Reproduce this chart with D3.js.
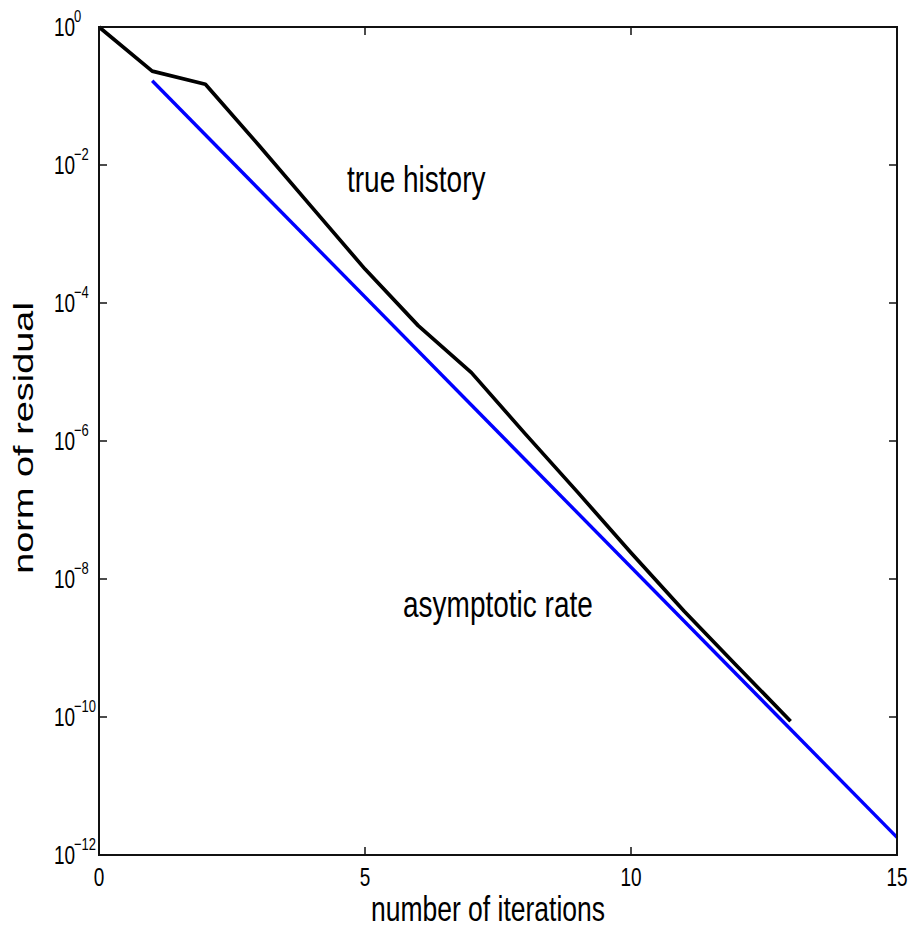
<!DOCTYPE html>
<html>
<head>
<meta charset="utf-8">
<script src="https://cdn.jsdelivr.net/npm/d3@7"></script>
<style>
  body { margin: 0; background: #fff; }
  text { font-family: "Liberation Sans", Arial, sans-serif; fill: #000; }
</style>
</head>
<body>
<script>
// residual history (true) and asymptotic rate line
const iterations = [0, 1, 2, 3, 4, 5, 6, 7, 8, 9, 10, 11, 12, 13];
const trueHistory = [1, 0.229, 0.148, 0.0195, 0.00245, 3.1e-4, 4.7e-5, 9.8e-6, 1.3e-6, 1.8e-7, 2.4e-8, 3.4e-9, 5.4e-10, 8.7e-11];
const rateIterations = [1, 15];
const rateValues = [0.166, 1.8e-12];
const xTicks = [0, 5, 10, 15];
const yTickExponents = [0, -2, -4, -6, -8, -10, -12];

const W = 911, H = 930;
const plotLeft = 99, plotRight = 897, plotTop = 27, plotBottom = 855;
const stretch = 1.33; // glyphs in the picture are taller than wide

const svg = d3.select("body").append("svg")
    .attr("width", W)
    .attr("height", H);

const x = d3.scaleLinear().domain([0, 15]).range([plotLeft, plotRight]);
const y = d3.scaleLog().domain([1, 1e-12]).range([plotTop, plotBottom]);

// lines
const line = d3.line()
    .x(d => x(d[0]))
    .y(d => y(d[1]));

svg.append("path")
    .datum(rateIterations.map((v, i) => [v, rateValues[i]]))
    .attr("d", line)
    .attr("fill", "none")
    .attr("stroke", "#0000ff")
    .attr("stroke-width", 3.4);

svg.append("path")
    .datum(iterations.map((v, i) => [v, trueHistory[i]]))
    .attr("d", line)
    .attr("fill", "none")
    .attr("stroke", "#000")
    .attr("stroke-width", 3.7)
    .attr("stroke-linejoin", "round");

// box
svg.append("rect")
    .attr("x", plotLeft)
    .attr("y", plotTop)
    .attr("width", plotRight - plotLeft)
    .attr("height", plotBottom - plotTop)
    .attr("fill", "none")
    .attr("stroke", "#111")
    .attr("stroke-width", 2);

// ticks (inward, all four sides)
const tickLen = 8;
xTicks.forEach(t => {
    svg.append("line").attr("x1", x(t)).attr("x2", x(t))
        .attr("y1", plotBottom).attr("y2", plotBottom - tickLen)
        .attr("stroke", "#111").attr("stroke-width", 1.5);
    svg.append("line").attr("x1", x(t)).attr("x2", x(t))
        .attr("y1", plotTop).attr("y2", plotTop + tickLen)
        .attr("stroke", "#111").attr("stroke-width", 1.5);
    svg.append("g")
        .attr("transform", `translate(${x(t)},886) scale(1,${stretch})`)
        .append("text")
        .attr("text-anchor", "middle")
        .style("font-size", "19px")
        .text(t);
});

yTickExponents.forEach(e => {
    const yy = y(Math.pow(10, e));
    svg.append("line").attr("x1", plotLeft).attr("x2", plotLeft + tickLen)
        .attr("y1", yy).attr("y2", yy)
        .attr("stroke", "#111").attr("stroke-width", 1.5);
    svg.append("line").attr("x1", plotRight).attr("x2", plotRight - tickLen)
        .attr("y1", yy).attr("y2", yy)
        .attr("stroke", "#111").attr("stroke-width", 1.5);
    const g = svg.append("g")
        .attr("transform", `translate(54,${yy + 9}) scale(1,${stretch})`);
    g.append("text")
        .style("font-size", "19px")
        .text("10");
    g.append("text")
        .attr("x", 20)
        .attr("y", -10.5)
        .style("font-size", "13px")
        .text(e === 0 ? "0" : "\u2212" + Math.abs(e));
});

// axis titles
svg.append("g")
    .attr("transform", `translate(488,921) scale(1,${stretch})`)
    .append("text")
    .attr("text-anchor", "middle")
    .style("font-size", "26.5px")
    .text("number of iterations");

svg.append("g")
    .attr("transform", `translate(33,438) scale(1,${stretch}) rotate(-90)`)
    .append("text")
    .attr("text-anchor", "middle")
    .style("font-size", "28.5px")
    .text("norm of residual");

// annotations
svg.append("g")
    .attr("transform", `translate(347,192) scale(1,${stretch})`)
    .append("text")
    .style("font-size", "28px")
    .text("true history");

svg.append("g")
    .attr("transform", `translate(403,617) scale(1,${stretch})`)
    .append("text")
    .style("font-size", "28px")
    .text("asymptotic rate");
</script>
</body>
</html>
